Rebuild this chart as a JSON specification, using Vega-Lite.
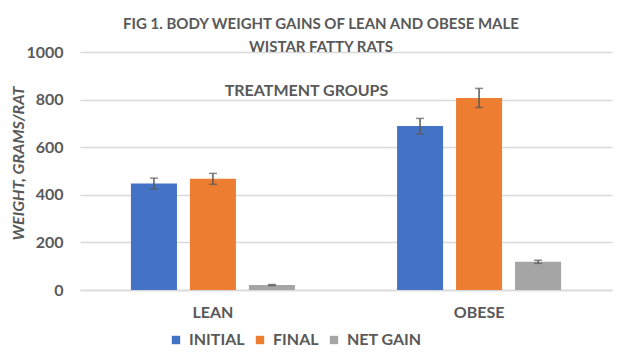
{
  "$schema": "https://vega.github.io/schema/vega-lite/v6.json",
  "width": 532,
  "height": 238,
  "autosize": "none",
  "padding": {"left": 80, "top": 52, "right": 13, "bottom": 68},
  "background": "white",
  "title": {
    "text": ["FIG 1. BODY WEIGHT GAINS  OF LEAN AND OBESE MALE", "WISTAR FATTY RATS"],
    "anchor": "middle",
    "frame": "group",
    "dx": -25,
    "offset": -11,
    "font": "Lato",
    "fontSize": 15,
    "fontWeight": "bold",
    "color": "#595959",
    "lineHeight": 23
  },
  "config": {
    "view": {"stroke": null},
    "font": "Lato",
    "axis": {
      "labelFont": "Lato",
      "titleFont": "Lato",
      "labelColor": "#595959",
      "titleColor": "#595959",
      "labelFontWeight": "bold",
      "titleFontWeight": "bold"
    }
  },
  "data": {
    "values": [
      {"group": "LEAN", "series": "INITIAL", "value": 447, "lo": 424, "hi": 470},
      {"group": "LEAN", "series": "FINAL", "value": 467, "lo": 444, "hi": 490},
      {"group": "LEAN", "series": "NET GAIN", "value": 21, "lo": 19, "hi": 23},
      {"group": "OBESE", "series": "INITIAL", "value": 689, "lo": 655, "hi": 721},
      {"group": "OBESE", "series": "FINAL", "value": 807, "lo": 767, "hi": 847},
      {"group": "OBESE", "series": "NET GAIN", "value": 119, "lo": 112, "hi": 125}
    ]
  },
  "encoding": {
    "x": {
      "field": "group",
      "type": "nominal",
      "sort": ["LEAN", "OBESE"],
      "scale": {"paddingInner": 0.335, "paddingOuter": 0.167},
      "axis": {
        "title": "TREATMENT GROUPS",
        "titleX": 226,
        "titleY": -200,
        "titleAlign": "center",
        "titleBaseline": "middle",
        "titleFontSize": 16,
        "labelAngle": 0,
        "labelFontSize": 16,
        "labelPadding": 14,
        "ticks": false,
        "domainColor": "#d9d9d9",
        "domainWidth": 1.3
      }
    },
    "xOffset": {
      "field": "series",
      "type": "nominal",
      "sort": ["INITIAL", "FINAL", "NET GAIN"],
      "scale": {"paddingInner": 0.22, "paddingOuter": 0.11}
    }
  },
  "layer": [
    {
      "mark": {"type": "bar"},
      "encoding": {
        "y": {
          "field": "value",
          "type": "quantitative",
          "scale": {"domain": [0, 1000]},
          "axis": {
            "title": "WEIGHT, GRAMS/RAT",
            "titleFontStyle": "italic",
            "titleFontSize": 16,
            "titleX": -62,
            "titleY": 111,
            "titleAngle": -90,
            "titleAlign": "center",
            "titleBaseline": "middle",
            "values": [0, 200, 400, 600, 800, 1000],
            "format": "d",
            "labelFontSize": 16,
            "labelPadding": 17,
            "ticks": false,
            "domain": false,
            "gridColor": "#d9d9d9",
            "gridWidth": 1.3
          }
        },
        "color": {
          "field": "series",
          "type": "nominal",
          "sort": ["INITIAL", "FINAL", "NET GAIN"],
          "scale": {"domain": ["INITIAL", "FINAL", "NET GAIN"], "range": ["#4472C4", "#ED7D31", "#A5A5A5"]},
          "legend": {
            "orient": "none",
            "direction": "horizontal",
            "legendX": 88,
            "legendY": 280,
            "title": null,
            "gridAlign": "none",
            "symbolType": "square",
            "symbolSize": 70,
            "symbolStrokeWidth": 0,
            "labelFont": "Lato",
            "labelFontSize": 16,
            "labelFontWeight": "bold",
            "labelColor": "#595959",
            "labelOffset": 5,
            "columnPadding": 7
          }
        }
      }
    },
    {
      "mark": {"type": "rule", "color": "#595959", "strokeWidth": 1.5},
      "encoding": {
        "y": {"field": "lo", "type": "quantitative"},
        "y2": {"field": "hi"}
      }
    },
    {
      "mark": {"type": "tick", "color": "#595959", "thickness": 1.5, "size": 8},
      "encoding": {"y": {"field": "lo", "type": "quantitative"}}
    },
    {
      "mark": {"type": "tick", "color": "#595959", "thickness": 1.5, "size": 8},
      "encoding": {"y": {"field": "hi", "type": "quantitative"}}
    }
  ]
}
